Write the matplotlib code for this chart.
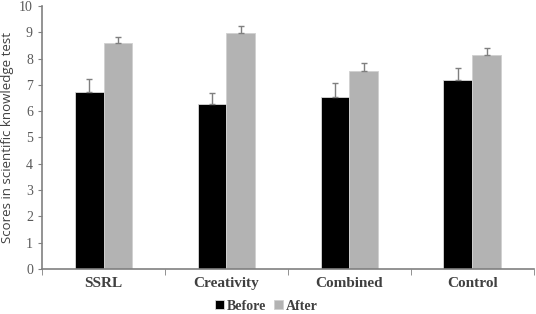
import matplotlib.pyplot as plt
import numpy as np

categories = ['SSRL', 'Creativity', 'Combined', 'Control']
before = [6.73, 6.26, 6.55, 7.19]
after = [8.58, 8.96, 7.53, 8.12]
before_err = [0.49, 0.42, 0.51, 0.47]
after_err = [0.25, 0.26, 0.29, 0.27]

fig = plt.figure(figsize=(5.36, 3.14), dpi=100)
ax = fig.add_axes([0.0784, 0.1433, 0.9176, 0.8377])

x = np.arange(len(categories))
w = 0.235
ax.bar(x - w / 2, before, w, color='black', edgecolor='#d9d9d9', linewidth=0.6, label='Before')
ax.bar(x + w / 2, after, w, color='#b3b3b3', edgecolor='#d0d0d0', linewidth=0.6, label='After')
ax.errorbar(x - w / 2, before, yerr=[[0] * 4, before_err], fmt='none',
            ecolor='#7f7f7f', elinewidth=1, capsize=2, capthick=1)
ax.errorbar(x + w / 2, after, yerr=[[0] * 4, after_err], fmt='none',
            ecolor='#7f7f7f', elinewidth=1, capsize=2, capthick=1)

ax.set_xlim(-0.5, len(categories) - 0.5)
ax.set_ylim(0, 10)
ax.set_yticks(range(0, 11))
ax.set_xticks(x)
ax.set_xticklabels(categories, fontfamily='Liberation Serif', fontweight='bold',
                   fontsize=11, color='#404040')
ax.set_xticks(np.arange(-0.5, len(categories)), minor=True)
ax.tick_params(axis='x', which='major', length=0, pad=6)
ax.tick_params(axis='x', which='minor', length=4, color='#808080', direction='out')
ax.tick_params(axis='y', length=3, color='#808080', labelsize=10, labelcolor='#595959')
for lab in ax.get_yticklabels():
    lab.set_fontfamily('Liberation Serif')

for s in ['top', 'right']:
    ax.spines[s].set_visible(False)
ax.spines['left'].set_color('#808080')
ax.spines['bottom'].set_color('#808080')
ax.spines['left'].set_linewidth(1.2)
ax.spines['bottom'].set_linewidth(1.2)

ax.set_ylabel('Scores in scientific knowledge test', fontfamily='Open Sans',
              fontsize=9.5, color='#404040', labelpad=4)

leg = fig.legend(loc='center', bbox_to_anchor=(0.497, 0.025), ncol=2, frameon=False,
                 handlelength=0.6, handleheight=0.6, handletextpad=0.2, columnspacing=0.6,
                 prop={'family': 'Liberation Serif', 'weight': 'bold', 'size': 10})
for t in leg.get_texts():
    t.set_color('#404040')

fig.savefig('out.png', dpi=100)
